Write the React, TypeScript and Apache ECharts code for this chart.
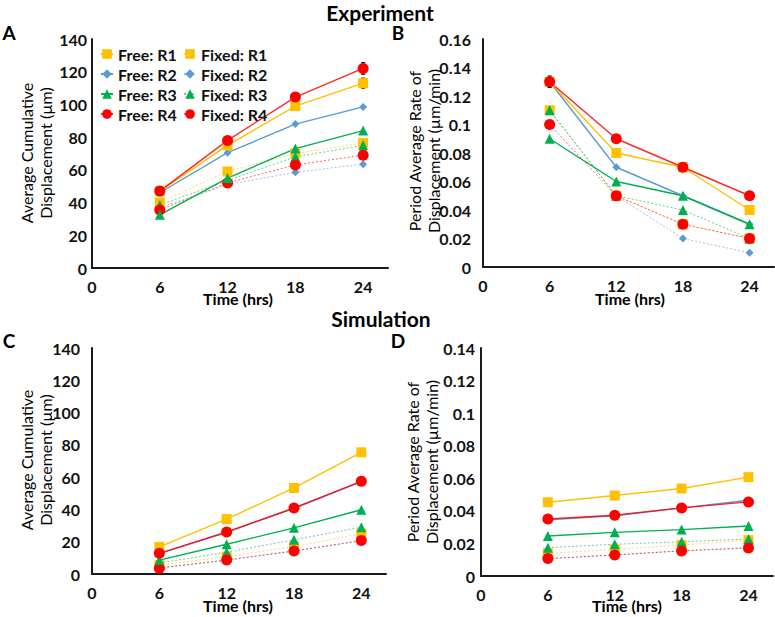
import React, { useEffect, useRef } from "react";
import * as echarts from "echarts";

// ---------- data ----------
const TIMES = [6, 12, 18, 24];
const X_TICKS = [0, 6, 12, 18, 24];
const FREE_NAMES = ["Free: R1", "Free: R2", "Free: R3", "Free: R4"];
const FIXED_NAMES = ["Fixed: R1", "Fixed: R2", "Fixed: R3", "Fixed: R4"];

// A: experiment, average cumulative displacement (µm)
const expDispFreeR1 = [47, 75, 99, 113];
const expDispFreeR2 = [46, 70.5, 88, 98.5];
const expDispFreeR3 = [32.5, 55, 73, 84];
const expDispFreeR4 = [47, 78, 104.5, 122];
const expDispFixedR1 = [40, 59, 70, 76.5];
const expDispFixedR2 = [37, 51, 58.5, 63.5];
const expDispFixedR3 = [38.5, 53.5, 68, 75];
const expDispFixedR4 = [35.5, 52, 63, 69];
const expDispErrFreeR1 = [1, 1.5, 2.5, 3];
const expDispErrFreeR4 = [1, 1.5, 2.5, 3.5];

// B: experiment, period average rate (µm/min)
const expRateFreeR1 = [0.13, 0.08, 0.07, 0.04];
const expRateFreeR2 = [0.13, 0.07, 0.05, 0.03];
const expRateFreeR3 = [0.09, 0.06, 0.05, 0.03];
const expRateFreeR4 = [0.13, 0.09, 0.07, 0.05];
const expRateFixedR1 = [0.11, 0.05, 0.03, 0.02];
const expRateFixedR2 = [0.11, 0.05, 0.02, 0.01];
const expRateFixedR3 = [0.11, 0.05, 0.04, 0.02];
const expRateFixedR4 = [0.1, 0.05, 0.03, 0.02];
const expRateErrFreeR4 = [0.004, 0, 0, 0];
const expRateErrFixedR1 = [0.002, 0, 0, 0];

// C: simulation, average cumulative displacement (µm)
const simDispFreeR1 = [16.8, 34, 53.3, 75.4];
const simDispFreeR2 = [12.6, 25.8, 40.7, 57.2];
const simDispFreeR3 = [8.6, 18.4, 28.6, 39.8];
const simDispFreeR4 = [12.8, 26, 40.9, 57.4];
const simDispFixedR1 = [5.5, 10.8, 17, 24.9];
const simDispFixedR2 = [4, 8.5, 14.2, 20.5];
const simDispFixedR3 = [6.8, 13.5, 21.2, 29];
const simDispFixedR4 = [3.6, 8.7, 14.3, 20.7];

// D: simulation, period average rate (µm/min)
const simRateFreeR1 = [0.0453, 0.0494, 0.0537, 0.0607];
const simRateFreeR2 = [0.0345, 0.037, 0.0418, 0.0465];
const simRateFreeR3 = [0.0246, 0.0268, 0.0285, 0.0307];
const simRateFreeR4 = [0.035, 0.0373, 0.0418, 0.0455];
const simRateFixedR1 = [0.014, 0.0163, 0.019, 0.022];
const simRateFixedR2 = [0.0105, 0.013, 0.0155, 0.0175];
const simRateFixedR3 = [0.0174, 0.0195, 0.021, 0.0227];
const simRateFixedR4 = [0.0107, 0.0129, 0.0154, 0.0172];

// ---------- styling ----------
const FONT = 'Lato, "Open Sans", sans-serif';
const COLORS: Record<string, string> = {
  R1: "#FFC000",
  R2: "#5B9BD5",
  R3: "#00B050",
  R4: "#FF0000",
};
const SYMBOLS: Record<string, [string, number]> = {
  R1: ["rect", 10],
  R2: ["diamond", 8],
  R3: ["triangle", 10],
  R4: ["circle", 11],
};

type PanelData = { free: number[][]; fixed: number[][] };

const panels: PanelData[] = [
  {
    free: [expDispFreeR1, expDispFreeR2, expDispFreeR3, expDispFreeR4],
    fixed: [expDispFixedR1, expDispFixedR2, expDispFixedR3, expDispFixedR4],
  },
  {
    free: [expRateFreeR1, expRateFreeR2, expRateFreeR3, expRateFreeR4],
    fixed: [expRateFixedR1, expRateFixedR2, expRateFixedR3, expRateFixedR4],
  },
  {
    free: [simDispFreeR1, simDispFreeR2, simDispFreeR3, simDispFreeR4],
    fixed: [simDispFixedR1, simDispFixedR2, simDispFixedR3, simDispFixedR4],
  },
  {
    free: [simRateFreeR1, simRateFreeR2, simRateFreeR3, simRateFreeR4],
    fixed: [simRateFixedR1, simRateFixedR2, simRateFixedR3, simRateFixedR4],
  },
];

// drawing order (later on top)
const ORDER: Array<["fixed" | "free", number]> = [
  ["fixed", 1],
  ["fixed", 0],
  ["fixed", 2],
  ["fixed", 3],
  ["free", 1],
  ["free", 2],
  ["free", 0],
  ["free", 3],
];

function buildSeries(): any[] {
  const out: any[] = [];
  panels.forEach((p, gi) => {
    ORDER.forEach(([kind, idx]) => {
      const key = "R" + (idx + 1);
      const color = COLORS[key];
      const [sym, size] = SYMBOLS[key];
      const values = kind === "free" ? p.free[idx] : p.fixed[idx];
      const isFree = kind === "free";
      out.push({
        type: "line",
        name: isFree ? FREE_NAMES[idx] : FIXED_NAMES[idx],
        xAxisIndex: gi,
        yAxisIndex: gi,
        data: TIMES.map((t, i) => [t, values[i]]),
        symbol: sym,
        symbolSize: size,
        showAllSymbol: true,
        itemStyle: { color, opacity: 1 },
        lineStyle: isFree
          ? { color, width: 1.4, type: "solid", opacity: key === "R4" ? 0.85 : 1 }
          : { color, width: 1, type: [2, 2], opacity: 0.6 },
        z: 3,
      });
    });
  });
  return out;
}

function errorSeries(gi: number, values: number[], errs: number[]) {
  return {
    type: "custom",
    xAxisIndex: gi,
    yAxisIndex: gi,
    z: 2,
    silent: true,
    data: TIMES.map((t, i) => [t, values[i], errs[i]]).filter((d) => d[2] > 0),
    encode: { x: 0, y: 1 },
    renderItem: (params: any, api: any) => {
      const x = api.value(0);
      const y = api.value(1);
      const e = api.value(2);
      const lo = api.coord([x, y - e]);
      const hi = api.coord([x, y + e]);
      const st = { stroke: "#000", lineWidth: 1.2 };
      return {
        type: "group",
        children: [
          { type: "line", shape: { x1: lo[0], y1: lo[1], x2: hi[0], y2: hi[1] }, style: st },
          { type: "line", shape: { x1: lo[0] - 2, y1: lo[1], x2: lo[0] + 2, y2: lo[1] }, style: st },
          { type: "line", shape: { x1: hi[0] - 2, y1: hi[1], x2: hi[0] + 2, y2: hi[1] }, style: st },
        ],
      };
    },
  };
}

const GRIDS = [
  { left: 92, top: 39, width: 296, height: 229 },
  { left: 483, top: 39, width: 291, height: 228 },
  { left: 92, top: 348, width: 294, height: 226 },
  { left: 481, top: 348, width: 292, height: 228 },
];
const Y_MAX = [140, 0.16, 140, 0.14];
const Y_INT = [20, 0.02, 20, 0.02];
const Y_LABEL_MARGIN = [5, 12, 12, 6];

const axisLineStyle = { show: true, lineStyle: { color: "#1a1a1a", width: 2 } };
const labelStyle = { color: "#111", fontFamily: FONT, fontWeight: "bold" as const, fontSize: 16 };

function text(x: number, y: number, t: string, opts: any = {}) {
  return {
    type: "text",
    x,
    y,
    rotation: opts.rotation || 0,
    z: 10,
    style: {
      text: t,
      fill: "#000",
      fontFamily: FONT,
      fontSize: opts.size || 16,
      fontWeight: opts.bold ? "bold" : "normal",
      align: "center",
      verticalAlign: "middle",
      lineHeight: opts.lineHeight || 19,
    },
  };
}

export default function App() {
  const ref = useRef<HTMLDivElement>(null);
  useEffect(() => {
    if (!ref.current) return;
    const chart = echarts.init(ref.current, undefined, { renderer: "svg" });
    const legendCommon = {
      orient: "vertical" as const,
      top: 40,
      itemWidth: 12,
      itemHeight: 12,
      itemGap: 2,
      textStyle: { ...labelStyle, fontSize: 16, lineHeight: 18 },
      selectedMode: false,
    };
    const option: any = {
      animation: false,
      backgroundColor: "#fff",
      grid: GRIDS.map((g) => ({ ...g, containLabel: false })),
      xAxis: GRIDS.map((_, i) => ({
        type: "value",
        gridIndex: i,
        min: 0,
        max: 26.2,
        interval: 6,
        axisLine: axisLineStyle,
        axisTick: { show: false },
        splitLine: { show: false },
        axisLabel: {
          ...labelStyle,
          margin: 10,
          showMaxLabel: false,
          formatter: (v: number) => (X_TICKS.includes(v) ? String(v) : ""),
        },
      })),
      yAxis: GRIDS.map((_, i) => ({
        type: "value",
        gridIndex: i,
        min: 0,
        max: Y_MAX[i],
        interval: Y_INT[i],
        axisLine: axisLineStyle,
        axisTick: { show: false },
        splitLine: { show: false },
        axisLabel: { ...labelStyle, margin: Y_LABEL_MARGIN[i] },
      })),
      legend: [
        { ...legendCommon, left: 95, data: FREE_NAMES },
        { ...legendCommon, left: 178, data: FIXED_NAMES },
      ],
      series: [
        ...buildSeries(),
        errorSeries(0, expDispFreeR1, expDispErrFreeR1),
        errorSeries(0, expDispFreeR4, expDispErrFreeR4),
        errorSeries(1, expRateFreeR4, expRateErrFreeR4),
        errorSeries(1, expRateFixedR1, expRateErrFixedR1),
      ],
      graphic: [
        text(380, 12, "Experiment", { bold: true, size: 21 }),
        text(381, 318, "Simulation", { bold: true, size: 21 }),
        text(9, 32, "A", { bold: true, size: 19 }),
        text(398, 32, "B", { bold: true, size: 19 }),
        text(9, 340, "C", { bold: true, size: 19 }),
        text(398, 340, "D", { bold: true, size: 19 }),
        text(36, 153, "Average Cumulative\nDisplacement (µm)", { rotation: Math.PI / 2 }),
        text(424, 151, "Period Average Rate of\nDisplacement (µm/min)", { rotation: Math.PI / 2 }),
        text(36, 460, "Average Cumulative\nDisplacement (µm)", { rotation: Math.PI / 2 }),
        text(422, 462, "Period Average Rate of\nDisplacement (µm/min)", { rotation: Math.PI / 2 }),
        text(238, 298, "Time (hrs)", { bold: true }),
        text(630, 298, "Time (hrs)", { bold: true }),
        text(238, 605, "Time (hrs)", { bold: true }),
        text(627, 605, "Time (hrs)", { bold: true }),
      ],
    };
    chart.setOption(option);
    return () => chart.dispose();
  }, []);
  return (
    <div
      ref={ref}
      style={{ position: "fixed", left: 0, top: 0, width: 775, height: 617, background: "#fff" }}
    />
  );
}
